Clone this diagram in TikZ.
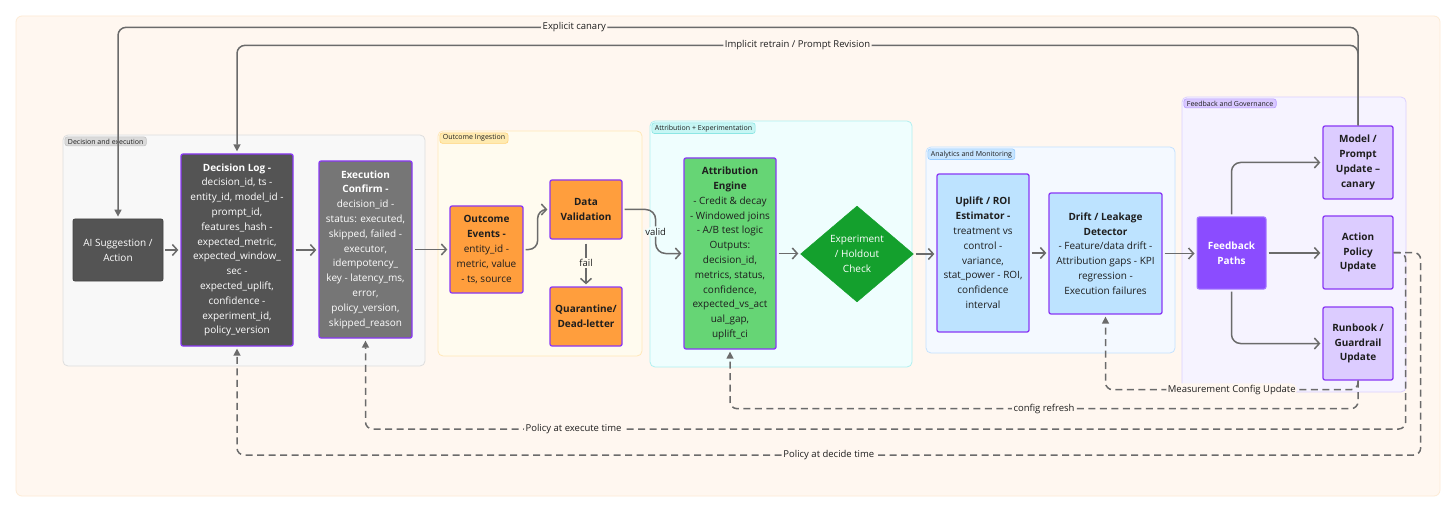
\documentclass[tikz,border=0pt]{standalone}
\usepackage{fontspec}
\setmainfont{Open Sans}
\usetikzlibrary{arrows.meta,shapes.geometric,calc}
\definecolor{bgc}{HTML}{FFF7F0}
\definecolor{bgd}{HTML}{FDEBD5}
\definecolor{gdeF}{HTML}{F8F8F8}\definecolor{gdeD}{HTML}{DEDEDE}
\definecolor{tdeF}{HTML}{DADADA}\definecolor{tdeD}{HTML}{C4C4C4}
\definecolor{goiF}{HTML}{FFFBEF}\definecolor{goiD}{HTML}{FFE8B8}
\definecolor{toiF}{HTML}{FFEAB0}\definecolor{toiD}{HTML}{FFD27A}
\definecolor{gaeF}{HTML}{EFFEFE}\definecolor{gaeD}{HTML}{B0F0F0}
\definecolor{taeF}{HTML}{C6F6F4}\definecolor{taeD}{HTML}{8CE6E4}
\definecolor{gamF}{HTML}{F4F9FF}\definecolor{gamD}{HTML}{C4E2FF}
\definecolor{tamF}{HTML}{C7E5FF}\definecolor{tamD}{HTML}{96CCFF}
\definecolor{gfgF}{HTML}{F6F3FF}\definecolor{gfgD}{HTML}{DCD0FF}
\definecolor{tfgF}{HTML}{D9C9FF}\definecolor{tfgD}{HTML}{B79BFF}
\definecolor{purp}{HTML}{8A38F5}
\definecolor{dgray}{HTML}{545454}
\definecolor{mgray}{HTML}{767676}
\definecolor{orng}{HTML}{FF9E3D}
\definecolor{grn}{HTML}{66D575}
\definecolor{dgrn}{HTML}{14A02D}
\definecolor{lblu}{HTML}{BDE3FF}
\definecolor{vpur}{HTML}{8B4CFF}
\definecolor{vpurD}{HTML}{A77BFF}
\definecolor{lpur}{HTML}{DCCCFF}
\definecolor{lnc}{HTML}{6B6B6B}
\definecolor{txt}{HTML}{1E1E1E}
\tikzset{
  grp/.style={rounded corners=5pt, line width=0.8pt},
  tag/.style={rounded corners=2.5pt, line width=0.6pt, font=\fontsize{7}{8}\selectfont, inner xsep=3pt, inner ysep=1.8pt, anchor=north west, text=txt},
  box/.style={draw=purp, line width=1.3pt, rounded corners=2pt, align=center, inner sep=0pt, font=\fontsize{10}{14.8}\selectfont, text=txt},
  flow/.style={draw=lnc, line width=1.5pt, -{Straight Barb[length=5pt,width=11pt]}, shorten <=2pt, shorten >=2pt},
  tri/.style={draw=lnc, line width=1.5pt, -{Triangle[length=7pt,width=7pt]}, rounded corners=8pt, shorten >=2pt},
  dashline/.style={draw=lnc, line width=1.5pt, dash pattern=on 7pt off 4.5pt, -{Triangle[length=7pt,width=7pt]}, rounded corners=7pt, shorten >=2pt},
  elab/.style={fill=bgc, font=\fontsize{9.5}{11}\selectfont, inner sep=1.5pt, text=txt},
}
\begin{document}
\begin{tikzpicture}[x=1pt,y=-1pt]
\useasboundingbox (0,0) rectangle (1456,513);
\fill[white] (0,0) rectangle (1456,513);
\draw[fill=bgc, draw=bgd, line width=0.8pt, rounded corners=6pt] (16,16) rectangle (1440,496);

% groups
\node[grp, fill=gdeF, draw=gdeD, minimum width=362pt, minimum height=231pt] (gde) at (244,250.5) {};
\node[tag, fill=tdeF, draw=tdeD] (tde) at ($(gde.north west)+(2,2)$) {Decision and execution};
\node[grp, fill=goiF, draw=goiD, minimum width=204pt, minimum height=225pt] (goi) at (540,243.5) {};
\node[tag, fill=toiF, draw=toiD] (toi) at ($(goi.north west)+(2,2)$) {Outcome Ingestion};
\node[grp, fill=gaeF, draw=gaeD, minimum width=262pt, minimum height=246pt] (gae) at (781,244) {};
\node[tag, fill=taeF, draw=taeD] (tae) at ($(gae.north west)+(2,2)$) {Attribution + Experimentation};
\node[grp, fill=gamF, draw=gamD, minimum width=249pt, minimum height=206pt] (gam) at (1050.5,250) {};
\node[tag, fill=tamF, draw=tamD] (tam) at ($(gam.north west)+(2,2)$) {Analytics and Monitoring};
\node[grp, fill=gfgF, draw=gfgD, minimum width=224pt, minimum height=295pt] (gfg) at (1294,244.5) {};
\node[tag, fill=tfgF, draw=tfgD] (tfg) at ($(gfg.north west)+(2,2)$) {Feedback and Governance};

% nodes
\node[box, fill=dgray, draw=dgray!80!black, line width=0.8pt, text=white, minimum width=90pt, minimum height=62pt] (ai) at (118,250) {AI Suggestion /\\Action};
\node[box, fill=dgray, text=white, minimum width=112pt, minimum height=192pt] (dl) at (237,250) {\textbf{Decision Log -}\\decision\_id, ts -\\entity\_id, model\_id -\\prompt\_id,\\features\_hash -\\expected\_metric,\\expected\_window\_\\sec -\\expected\_uplift,\\confidence -\\experiment\_id,\\policy\_version};
\node[box, fill=mgray, text=white, minimum width=93pt, minimum height=177pt] (ec) at (365.5,249.5) {\textbf{Execution}\\\textbf{Confirm -}\\decision\_id -\\status: executed,\\skipped, failed -\\executor,\\idempotency\_\\key - latency\_ms,\\error,\\policy\_version,\\skipped\_reason};
\node[box, fill=orng, minimum width=73pt, minimum height=87pt] (oe) at (486.5,249.5) {\textbf{Outcome}\\\textbf{Events -}\\entity\_id -\\metric, value\\- ts, source};
\node[box, fill=orng, minimum width=72pt, minimum height=59pt] (dv) at (586,209.5) {\textbf{Data}\\\textbf{Validation}};
\node[box, fill=orng, minimum width=72pt, minimum height=59pt] (qd) at (586,316.5) {\textbf{Quarantine/}\\\textbf{Dead-letter}};
\node[box, fill=grn, minimum width=92pt, minimum height=191pt] (ae) at (730,253.5) {\textbf{Attribution}\\\textbf{Engine}\\- Credit \& decay\\- Windowed joins\\- A/B test logic\\Outputs:\\decision\_id,\\metrics, status,\\confidence,\\expected\_vs\_act\\ual\_gap,\\uplift\_ci};
\node[diamond, fill=dgrn, draw=dgrn, inner sep=0pt, minimum width=113pt, minimum height=96pt] (ex) at (857,254) {};
\node[align=center, text=white, font=\fontsize{10}{14.8}\selectfont] (ext) at (ex.center) {Experiment\\/ Holdout\\Check};
\node[box, fill=lblu, minimum width=92pt, minimum height=158pt] (up) at (983,253) {\textbf{Uplift / ROI}\\\textbf{Estimator -}\\treatment vs\\control -\\variance,\\stat\_power - ROI,\\confidence\\interval};
\node[box, fill=lblu, minimum width=113pt, minimum height=121pt] (dd) at (1105.5,253.5) {\textbf{Drift / Leakage}\\\textbf{Detector}\\- Feature/data drift -\\Attribution gaps - KPI\\regression -\\Execution failures};
\node[box, fill=vpur, draw=vpurD, line width=1pt, text=white, minimum width=69pt, minimum height=72pt] (fp) at (1231.5,253) {\textbf{Feedback}\\\textbf{Paths}};
\node[box, fill=lpur, minimum width=70pt, minimum height=73pt] (mp) at (1358,162.5) {\textbf{Model /}\\\textbf{Prompt}\\\textbf{Update –}\\\textbf{canary}};
\node[box, fill=lpur, minimum width=70pt, minimum height=73pt] (ap) at (1358,252.5) {\textbf{Action}\\\textbf{Policy}\\\textbf{Update}};
\node[box, fill=lpur, minimum width=70pt, minimum height=73pt] (rg) at (1358,343.5) {\textbf{Runbook /}\\\textbf{Guardrail}\\\textbf{Update}};

% main flow
\draw[flow] (ai.east) -- (ai.east -| dl.west);
\draw[flow] (dl.east) -- (dl.east -| ec.west);
\draw[flow] (ec.east) -- (ec.east -| oe.west);
\draw[flow, rounded corners=9pt] (oe.east) -- ++(14,0) |- (dv.west);
\draw[flow, shorten <=4pt] (dv.south) -- node[fill=goiF, font=\fontsize{9.5}{11}\selectfont, text=txt, inner sep=1.5pt] {fail} (qd.north);
\draw[flow, rounded corners=10pt] (dv.east) -- ++(33,0) |- node[pos=0.25, fill=gaeF, font=\fontsize{9.5}{11}\selectfont, text=txt, inner sep=1.5pt] {valid} (ae.west);
\draw[flow] (ae.east) -- (ae.east -| ex.west);
\draw[flow] (ex.east) -- (ex.east -| up.west);
\draw[flow] (up.east) -- (up.east -| dd.west);
\draw[flow] (dd.east) -- (dd.east -| fp.west);
\draw[flow, rounded corners=9pt] (fp.north) |- (mp.west);
\draw[flow] (fp.east) -- (fp.east -| ap.west);
\draw[flow, rounded corners=9pt] (fp.south) |- (rg.west);

% top feedback
\draw[tri] (mp.north) -- ++(0,-98) -| node[elab, pos=0.316] {Explicit canary} (ai.north);
\draw[tri] (mp.north) -- ++(0,-80) -| node[elab, pos=0.25] {Implicit retrain / Prompt Revision} (dl.north);

% dashed feedback
\draw[dashline] (rg.south) -- ++(0,9) -| node[elab, pos=0.25] {Measurement Config Update} (dd.south);
\draw[dashline] (rg.south) -- ++(0,28) -| node[elab, pos=0.25] {config refresh} (ae.south);
\draw[dashline] (ap.east) -- ++(12,0) -- ++(0,176.5) -| node[elab, pos=0.40] {Policy at execute time} (ec.south);
\draw[dashline] (ap.east) -- ++(27,0) -- ++(0,202.5) -| node[elab, pos=0.25] {Policy at decide time} (dl.south);
\end{tikzpicture}
\end{document}
